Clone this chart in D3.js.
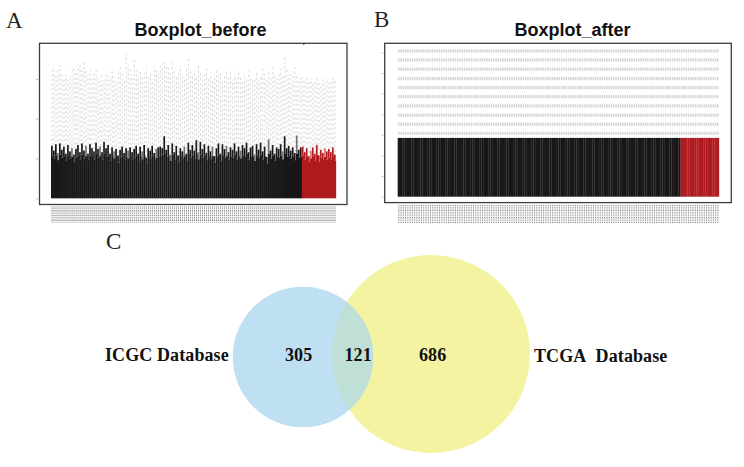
<!DOCTYPE html>
<html>
<head>
<meta charset="utf-8">
<style>
  html, body { margin: 0; padding: 0; background: #fff; }
  svg { display: block; }
</style>
<script src="https://cdn.jsdelivr.net/npm/d3@7"></script>
</head>
<body>
<svg id="chart" width="744" height="467"></svg>
<script>
// Values
const normalCount = 125;
const tumorCount = 17;

// Boxplot_before: upper box edge of every sample
const q3Before = [
  5.3,5.0,5.4,4.8,5.5,5.1,5.3,4.7,5.4,5.0,5.2,4.6,5.1,5.4,4.9,5.5,5.0,5.3,4.8,5.4,5.2,4.9,5.6,5.1,5.3,
  4.9,5.6,5.2,5.4,4.7,5.3,5.0,5.2,4.5,5.1,5.3,4.8,5.2,5.0,5.3,4.9,5.1,5.4,4.7,5.3,4.9,5.4,4.4,5.2,5.0,
  5.4,4.8,5.1,5.3,5.4,5.5,5.6,5.2,5.4,4.7,5.5,4.9,5.3,4.6,5.2,5.0,5.3,4.7,5.6,5.1,5.4,5.0,5.6,4.9,5.5,
  5.1,5.4,4.8,5.3,5.0,5.3,4.5,5.2,5.5,4.7,5.4,5.1,5.3,4.9,5.2,5.1,5.5,4.9,5.3,5.0,5.4,5.2,5.6,4.9,5.2,
  5.3,4.7,5.4,5.1,5.5,4.9,5.3,4.4,5.6,5.0,5.4,4.7,5.2,5.1,5.4,4.9,5.6,5.2,5.3,5.0,5.2,4.8,5.6,5.1,5.2,
  5.4,4.9,5.2,4.6,5.0,5.3,4.7,5.5,4.6,5.1,4.8,5.2,4.9,5.1,4.9,5.3,4.7
];

// Boxplot_before: upper whisker end of every sample
const peakBefore = [
  6.6,6.0,6.8,5.7,6.9,6.1,6.5,5.6,6.7,5.9,6.3,5.5,6.2,6.7,5.8,6.9,6.0,6.6,5.6,6.8,6.3,5.9,7.0,6.2,6.5,
  5.8,7.1,6.3,6.7,5.6,6.4,5.9,6.2,5.4,6.1,6.5,5.7,6.3,6.0,6.4,5.8,6.2,6.6,5.6,6.5,5.9,6.7,5.1,6.3,6.0,
  6.6,5.7,6.2,6.4,6.5,6.3,7.8,6.1,6.7,5.5,6.9,5.8,6.6,5.4,6.3,5.9,6.5,5.6,7.0,6.1,6.7,6.0,7.3,5.8,7.1,
  6.2,6.8,5.7,6.6,5.9,6.5,5.3,6.3,6.9,5.6,6.8,6.2,6.6,5.8,6.4,6.1,6.9,5.9,6.5,6.0,6.7,6.3,7.0,5.8,6.4,
  6.6,5.5,6.8,6.1,7.0,5.9,6.5,5.2,7.4,6.0,6.7,5.6,6.4,6.2,6.8,5.9,7.8,6.3,6.6,6.0,6.4,5.7,7.9,6.1,6.4,
  6.5,5.8,6.3,5.3,6.0,6.4,5.6,6.7,5.4,6.1,5.7,6.3,5.9,6.2,5.8,6.4,5.5
];

// Boxplot_before: highest outlier of every sample
const outlierBefore = [
  16.0,16.6,15.4,16.4,16.8,15.9,15.2,15.6,14.9,15.3,16.1,16.5,15.8,16.7,16.9,16.3,17.2,16.0,15.6,16.2,15.0,15.7,16.4,15.3,14.8,
  15.5,14.9,15.9,15.4,15.1,16.3,15.6,14.8,16.2,16.6,15.9,15.0,18.5,16.8,16.2,15.4,17.4,16.1,15.5,16.0,15.2,15.8,16.4,15.3,15.9,
  15.0,16.6,16.1,15.7,16.9,16.3,17.2,16.5,16.7,15.8,17.0,16.2,15.5,15.9,16.6,15.4,15.0,16.1,17.5,16.3,15.6,16.0,15.3,16.7,15.9,
  15.1,15.7,16.4,15.2,15.8,14.9,15.5,16.2,15.4,16.0,14.8,15.6,16.3,15.2,15.9,14.9,15.5,15.1,16.1,15.3,14.7,15.6,15.0,16.0,15.4,
  14.8,15.2,15.9,14.9,15.4,16.4,15.6,15.0,16.2,15.3,16.6,15.8,15.1,15.7,16.3,15.5,17.8,16.2,15.6,16.0,15.4,16.5,15.7,15.1,15.5,
  15.2,14.8,15.4,14.9,15.1,14.6,15.0,15.4,14.8,14.5,15.1,14.7,15.2,14.9,14.6,15.2,14.8
];

// The single far outlier near the top of the frame
const farOutlierBefore = { sample: 126, value: 19.4 };

// Boxplot_after: all samples share these values after normalisation
const q3After = 5.7;
const outlierRowsAfter = [14.13, 13.26, 12.36, 11.45, 10.57, 9.7, 8.8, 7.9, 7.03, 6.15];

const ticksBefore = [0, 5, 10, 15];
const ticksAfter = [0, 2, 4, 6, 8, 10, 12, 14];

// Venn counts
const onlyIcgc = 305;
const shared = 121;
const onlyTcga = 686;

const black = '#121010';
const red = '#ab1519';
const samples = d3.range(normalCount + tumorCount);
const sampleColor = i => (i < normalCount ? black : red);

const svg = d3.select('#chart');

// Draws the frame, y ticks, sample label band and title shared by both boxplots
function drawFrame(p, yScale, ticks, xScale) {
    svg.append('g')
        .attr('transform', `translate(${p.left - 1.5},0)`)
        .call(d3.axisLeft(yScale).tickValues(ticks).tickSize(1.5).tickFormat(''))
        .call(g => g.select('.domain').remove())
        .call(g => g.selectAll('line').attr('stroke', '#999').attr('stroke-width', 0.8));

    svg.append('g')
        .attr('transform', `translate(0,${p.labelTop})`)
        .call(d3.axisBottom(xScale).tickSize(p.labelHeight).tickSizeOuter(0).tickFormat(''))
        .call(g => g.select('.domain').remove())
        .call(g => g.selectAll('line')
            .attr('stroke', '#8a8a8a')
            .attr('stroke-width', 1.1)
            .attr('stroke-dasharray', '1 0.7'));

    svg.append('rect')
        .attr('x', p.left)
        .attr('y', p.top)
        .attr('width', p.right - p.left)
        .attr('height', p.bottom - p.top)
        .attr('fill', 'none')
        .attr('stroke', '#3d3d3d')
        .attr('stroke-width', 1.3);

    svg.append('text')
        .attr('x', p.titleX)
        .attr('y', 36)
        .attr('text-anchor', 'middle')
        .style('font', 'bold 18px "Liberation Sans", sans-serif')
        .style('fill', '#111')
        .text(p.title);
}

// Panel A
const panelA = {
    left: 39.5, right: 347, top: 43.3, bottom: 204.5,
    labelTop: 206.5, labelHeight: 16, titleX: 200.5, title: 'Boxplot_before'
};
const xA = d3.scaleBand().domain(samples).range([51, 336]);
const yA = d3.scaleLinear().domain([0, 15]).range([198.3, 79]);
drawFrame(panelA, yA, ticksBefore, xA);

svg.append('g').selectAll('line')
    .data(samples)
    .enter().append('line')
    .attr('x1', i => xA(i) + xA.bandwidth() / 2)
    .attr('x2', i => xA(i) + xA.bandwidth() / 2)
    .attr('y1', i => yA(peakBefore[i]))
    .attr('y2', i => yA(outlierBefore[i]))
    .attr('stroke', '#dcdcdc')
    .attr('stroke-width', 1.1)
    .attr('stroke-dasharray', '2.4 2.2')
    .attr('stroke-dashoffset', i => Math.abs((i % 12) - 6) * 0.75);

svg.append('g').selectAll('rect')
    .data(samples)
    .enter().append('rect')
    .attr('x', i => xA(i))
    .attr('y', i => yA(q3Before[i]))
    .attr('width', xA.bandwidth() * 1.08)
    .attr('height', i => yA(0) - yA(q3Before[i]))
    .attr('fill', sampleColor)
    .attr('fill-opacity', 0.97);

svg.append('g').selectAll('rect')
    .data(samples)
    .enter().append('rect')
    .attr('x', i => xA(i))
    .attr('y', i => yA(peakBefore[i]))
    .attr('width', 1.7)
    .attr('height', i => yA(q3Before[i]) - yA(peakBefore[i]))
    .attr('fill', sampleColor)
    .attr('opacity', i => (i % 7 === 3 ? 0.6 : 0.97));

svg.append('circle')
    .attr('cx', xA(farOutlierBefore.sample))
    .attr('cy', yA(farOutlierBefore.value))
    .attr('r', 0.8)
    .attr('fill', '#222');

// Panel B
const panelB = {
    left: 384.7, right: 731.3, top: 43.3, bottom: 202.6,
    labelTop: 205, labelHeight: 18, titleX: 572.5, title: 'Boxplot_after'
};
const xB = d3.scaleBand().domain(samples).range([397.7, 719]);
const yB = d3.scaleLinear().domain([0, 14]).range([196.7, 52.3]);
drawFrame(panelB, yB, ticksAfter, xB);

outlierRowsAfter.forEach(value => {
    svg.append('g').selectAll('line')
        .data(samples)
        .enter().append('line')
        .attr('x1', i => xB(i) + xB.bandwidth() / 2)
        .attr('x2', i => xB(i) + xB.bandwidth() / 2)
        .attr('y1', yB(value) - 1.6)
        .attr('y2', yB(value) + 1.6)
        .attr('stroke', '#d4d4d4')
        .attr('stroke-width', 1.5);
});

svg.append('g').selectAll('rect')
    .data(samples)
    .enter().append('rect')
    .attr('x', i => xB(i))
    .attr('y', yB(q3After))
    .attr('width', xB.bandwidth() * 1.08)
    .attr('height', yB(0) - yB(q3After))
    .attr('fill', sampleColor)
    .attr('fill-opacity', 0.97);

// Panel C: circle size follows the size of each set
const radius = d3.scaleLinear()
    .domain([onlyIcgc + shared, onlyTcga + shared])
    .range([70.3, 99]);

svg.append('circle')
    .attr('cx', 431)
    .attr('cy', 354)
    .attr('r', radius(onlyTcga + shared))
    .attr('fill', '#f3f3a1');

svg.append('circle')
    .attr('cx', 303)
    .attr('cy', 357)
    .attr('r', radius(onlyIcgc + shared))
    .attr('fill', '#bfe0f3');

// Overlap of the two circles
svg.append('clipPath')
    .attr('id', 'icgc-clip')
    .append('circle')
    .attr('cx', 303)
    .attr('cy', 357)
    .attr('r', radius(onlyIcgc + shared));

svg.append('circle')
    .attr('cx', 431)
    .attr('cy', 354)
    .attr('r', radius(onlyTcga + shared))
    .attr('fill', '#c0dfd6')
    .attr('clip-path', 'url(#icgc-clip)');

const serifBold = 'bold 18px "Liberation Serif", serif';
const vennLabels = [
    { text: 'ICGC Database', x: 105, y: 361 },
    { text: onlyIcgc, x: 285, y: 361 },
    { text: shared, x: 344.5, y: 361 },
    { text: onlyTcga, x: 419, y: 361 },
    { text: 'TCGA\u00a0 Database', x: 534, y: 361.5 }
];

svg.selectAll('.venn-label')
    .data(vennLabels)
    .enter().append('text')
    .attr('class', 'venn-label')
    .attr('x', d => d.x)
    .attr('y', d => d.y)
    .style('font', serifBold)
    .style('letter-spacing', '0.1px')
    .style('fill', '#111')
    .text(d => d.text);

// Panel letters
const panelLetters = [
    { text: 'A', x: 6, y: 28 },
    { text: 'B', x: 374, y: 27 },
    { text: 'C', x: 106, y: 249 }
];

svg.selectAll('.panel-letter')
    .data(panelLetters)
    .enter().append('text')
    .attr('class', 'panel-letter')
    .attr('x', d => d.x)
    .attr('y', d => d.y)
    .style('font', '23px "Liberation Serif", serif')
    .style('fill', '#222')
    .text(d => d.text);
</script>
</body>
</html>
